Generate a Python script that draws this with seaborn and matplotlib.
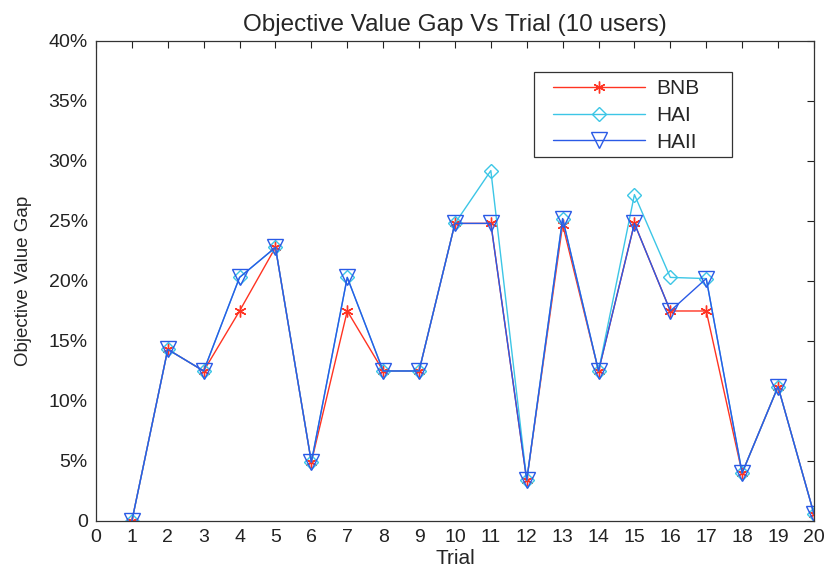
import matplotlib
matplotlib.use("Agg")
import matplotlib.pyplot as plt
import seaborn as sns
import pandas as pd
from matplotlib.patches import Rectangle
from matplotlib.ticker import FuncFormatter

trials = list(range(1, 21))
bnb = [0.0, 14.3, 12.5, 17.5, 22.8, 4.9, 17.5, 12.5, 12.5, 24.8,
       24.8, 3.4, 24.7, 12.5, 24.8, 17.5, 17.5, 4.0, 11.2, 0.6]
hai = [0.0, 14.3, 12.5, 20.3, 22.8, 4.9, 20.3, 12.5, 12.5, 24.8,
       29.2, 3.4, 25.2, 12.5, 27.2, 20.3, 20.2, 4.0, 11.2, 0.6]
haii = [0.0, 14.3, 12.5, 20.3, 22.8, 4.9, 20.3, 12.5, 12.5, 24.8,
        24.8, 3.4, 25.2, 12.5, 24.8, 17.5, 20.2, 4.0, 11.2, 0.6]
methods = ["BNB", "HAI", "HAII"]
colors = {"BNB": "#ff3322", "HAI": "#3cc6e6", "HAII": "#2a5ae6"}
marks = {"BNB": (6, 2, 0), "HAI": "D", "HAII": "v"}
sizes = {"BNB": 8.5, "HAI": 7.5, "HAII": 12}

df = pd.DataFrame({
    "Trial": trials * 3,
    "Gap": bnb + hai + haii,
    "Method": ["BNB"] * 20 + ["HAI"] * 20 + ["HAII"] * 20,
})

sns.set_style("white")
plt.rcParams["font.family"] = ["Liberation Sans", "DejaVu Sans"]

fig = plt.figure(figsize=(8.28, 5.71), dpi=100)
ax = fig.add_axes([0.1159, 0.0876, 0.8671, 0.8406])

sns.lineplot(data=df, x="Trial", y="Gap", hue="Method",
             hue_order=methods, palette=colors, marker="o",
             linewidth=1.0, legend=False, ax=ax)

# hollow MATLAB-style markers: asterisk, diamond, down-triangle
for line, m in zip(ax.get_lines(), methods):
    line.set_marker(marks[m])
    line.set_markerfacecolor("none")
    line.set_markeredgecolor(colors[m])
    line.set_markeredgewidth(1.0)
    line.set_markersize(sizes[m])
    line.set_label(m)

ax.set_xlim(0, 20)
ax.set_ylim(0, 40)
ax.set_xticks(range(0, 21))
ax.set_yticks(range(0, 41, 5))
ax.yaxis.set_major_formatter(FuncFormatter(lambda v, p: "0" if v == 0 else f"{int(v)}%"))
ax.tick_params(direction="in", length=5, width=0.8, top=True, right=True,
               labelsize=14, colors="#222222", pad=6)
for s in ax.spines.values():
    s.set_linewidth(0.9)
    s.set_color("#333333")

ax.set_title("Objective Value Gap Vs Trial (10 users)", fontsize=17.5, pad=7)
ax.set_xlabel("Trial", fontsize=15, labelpad=2)
ax.set_ylabel("Objective Value Gap", fontsize=13.5, labelpad=12)

# legend box drawn separately so the entries can sit with a wide margin
ax.add_patch(Rectangle((0.610, 0.758), 0.276, 0.177, transform=ax.transAxes,
                       facecolor="white", edgecolor="#333333", linewidth=0.9,
                       zorder=4))
handles = ax.get_lines()[:3]
leg = ax.legend(handles, methods, loc="upper left",
                bbox_to_anchor=(0.6365, 0.921),
                fontsize=15, frameon=False,
                handlelength=4.4, borderpad=0, labelspacing=0.38,
                handletextpad=0.55, borderaxespad=0)
leg.set_zorder(5)

fig.savefig("out.png", dpi=100)
